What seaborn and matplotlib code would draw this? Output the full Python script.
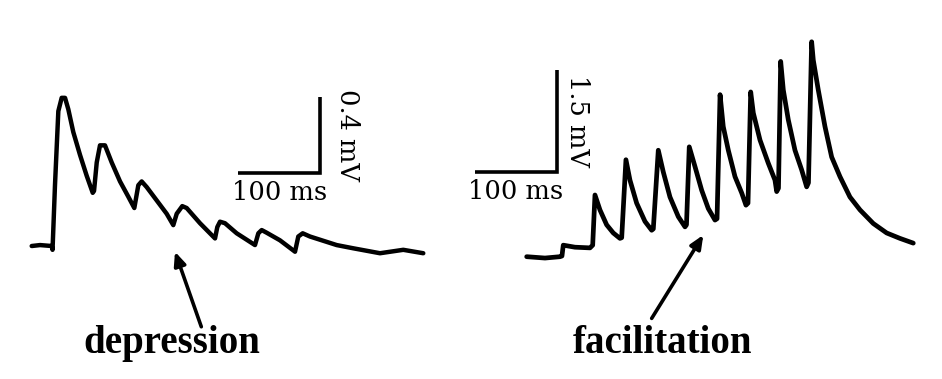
import numpy as np
import pandas as pd
import matplotlib
matplotlib.use("Agg")
import matplotlib.pyplot as plt
import seaborn as sns

# ---- data (time in ms, membrane potential in mV, relative to baseline) ----
dep_t = [0, 10.2, 24.5, 25.5, 28.5, 32.6, 36.7, 40.8, 44.8, 50.9, 59.1, 67.3, 74.7,
         76.3, 79.6, 83.6, 89.7, 97.9, 108.1, 118.2, 125.6,
         130.5, 134.6, 140.8, 153.0, 165.2, 173.3,
         177.5, 184.3, 189.7, 206, 224.4,
         227.2, 230.5, 236.6, 250.9, 273.3,
         277.4, 281.5, 287.6, 303.9, 322.3,
         326.3, 331.7, 340.6, 373.3, 393.6, 426.3, 454.8, 479.3]
dep_v = [0, 0.005, 0, -0.02, 0.32, 0.71, 0.78, 0.78, 0.72, 0.60, 0.48, 0.37, 0.28,
         0.29, 0.44, 0.53, 0.53, 0.44, 0.34, 0.26, 0.20,
         0.32, 0.34, 0.31, 0.24, 0.17, 0.11,
         0.17, 0.21, 0.20, 0.12, 0.04,
         0.10, 0.128, 0.12, 0.067, 0.005,
         0.067, 0.084, 0.07, 0.03, -0.03,
         0.05, 0.067, 0.05, 0.005, -0.012, -0.038, -0.02, -0.038]

fac_t = [0, 22.4, 40.8, 43.2, 44.8, 59.1, 77.5, 80.8,
         83.6, 89.7, 97.9, 106.0, 114.2, 116.3,
         121.5, 126.4, 134.6, 144.8, 153.0, 155.0,
         161.1, 167.2, 175.4, 185.6, 193.8, 195.6,
         199.0, 206.0, 214.2, 222.3, 230.5, 233.0,
         236.7, 240.6, 246.8, 255.0, 263.2, 268.4, 270.9,
         274.2, 277.4, 285.6, 295.7, 303.9, 306.0, 308.2,
         310.9, 314.1, 320.2, 328.4, 336.6, 342.7, 344.9,
         348.8, 350.8, 356.9, 365.1, 373.3, 383.5, 395.7, 408.0,
         424.2, 440.6, 456.9, 473.2]
fac_v = [0, -0.02, 0, 0.01, 0.17, 0.14, 0.13, 0.17,
         0.91, 0.69, 0.47, 0.35, 0.27, 0.28,
         1.43, 1.13, 0.79, 0.52, 0.39, 0.41,
         1.57, 1.25, 0.88, 0.59, 0.44, 0.47,
         1.62, 1.33, 0.98, 0.71, 0.54, 0.56,
         2.39, 1.92, 1.57, 1.18, 0.94, 0.76, 0.79,
         2.43, 2.12, 1.72, 1.38, 1.13, 0.96, 1.01,
         2.88, 2.46, 2.02, 1.57, 1.28, 1.03, 1.09,
         3.17, 2.90, 2.46, 1.92, 1.47, 1.18, 0.88, 0.69,
         0.49, 0.35, 0.27, 0.20]

scale_ms = 100
dep_scale_mv = 0.4
fac_scale_mv = 1.5
labels = ["depression", "facilitation"]

sns.set_style("white")
plt.rcParams["font.family"] = ["DejaVu Serif"]
plt.rcParams["text.color"] = "black"

W, H = 942, 379
fig = plt.figure(figsize=(W / 100, H / 100), dpi=100)

# left panel
axL = fig.add_axes([20 / W, 0, 420 / W, 1])
sns.lineplot(x=dep_t, y=dep_v, ax=axL, color="black", lw=3.2, sort=False)
axL.set_xlim(-14.32, 499.76)
axL.set_ylim(-0.70, 1.295)
axL.set_axis_off()

# right panel
axR = fig.add_axes([460 / W, 0, 480 / W, 1])
sns.lineplot(x=fac_t, y=fac_v, ax=axR, color="black", lw=3.4, sort=False)
axR.set_xlim(-81.6, 505.9)
axR.set_ylim(-1.804, 3.786)
axR.set_axis_off()

def scalebar(ax, x1, y0, mv, ms_label, mv_label, text_dx):
    x0 = x1 - scale_ms
    ax.plot([x0, x1, x1], [y0, y0, y0 + mv], color="black", lw=2.6,
            solid_joinstyle="miter", solid_capstyle="butt")
    ax.annotate(ms_label, xy=((x0 + x1) / 2, y0), xytext=(0, -5),
                textcoords="offset points", ha="center", va="top",
                fontsize=18.5, color="black")
    ax.annotate(mv_label, xy=(x1, y0 + mv / 2), xytext=(text_dx, 0),
                textcoords="offset points", ha="center", va="center",
                rotation=270, fontsize=18.5, color="black")

scalebar(axL, 352.9, 0.386, dep_scale_mv, f"{scale_ms} ms", f"{dep_scale_mv} mV", 20)
scalebar(axR, 36.7, 1.254, fac_scale_mv, f"{scale_ms} ms", f"{fac_scale_mv} mV", 15)

arrow = dict(arrowstyle="-|>,head_length=0.8,head_width=0.35", color="black",
             lw=2.6, shrinkA=0, shrinkB=0)
axL.annotate("", xy=(175.4, -0.03), xytext=(207.6, -0.425),
             arrowprops=arrow, annotation_clip=False)
axR.annotate("", xy=(216.2, 0.32), xytext=(153, -0.91),
             arrowprops=arrow, annotation_clip=False)

axL.text(171.7, -0.563, labels[0], ha="center", va="baseline", color="black",
         fontsize=28, fontweight="bold", family=["Liberation Serif"])
axR.text(166.2, -1.42, labels[1], ha="center", va="baseline", color="black",
         fontsize=28, fontweight="bold", family=["Liberation Serif"])

fig.savefig("out.png", dpi=100, facecolor="white")
